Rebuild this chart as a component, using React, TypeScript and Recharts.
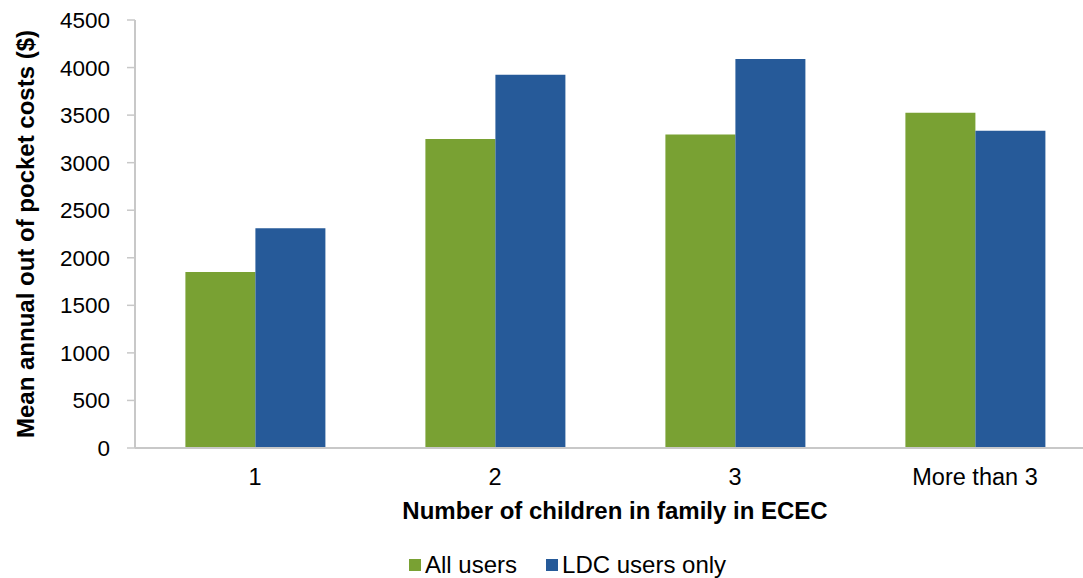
import React from "react";
import { BarChart, Bar, XAxis, YAxis, Legend, Label } from "recharts";

// children in family using ECEC
const categories = ["1", "2", "3", "More than 3"];
const allUsers = [1850, 3250, 3295, 3525];
const ldcUsers = [2310, 3925, 4090, 3335];
const yTicks = [0, 500, 1000, 1500, 2000, 2500, 3000, 3500, 4000, 4500];

const GREEN = "#79A133";
const BLUE = "#265A99";
const FONT = "'Liberation Sans', Arial, sans-serif";

const data = categories.map((c, i) => ({
  name: c,
  all: allUsers[i],
  ldc: ldcUsers[i],
}));

// y-axis title, rotated and centred on the plot
const YTitle = ({ viewBox }: any) => {
  const cx = 25;
  const cy = viewBox.y + viewBox.height / 2;
  return (
    <text
      x={cx}
      y={cy}
      transform={`rotate(-90, ${cx}, ${cy})`}
      textAnchor="middle"
      dominantBaseline="central"
      fontFamily={FONT}
      fontWeight="bold"
      fontSize={24}
      fill="#000"
    >
      Mean annual out of pocket costs ($)
    </text>
  );
};

const XTitle = ({ viewBox }: any) => (
  <text
    x={viewBox.x + viewBox.width / 2}
    y={519}
    textAnchor="middle"
    fontFamily={FONT}
    fontWeight="bold"
    fontSize={24}
    fill="#000"
  >
    Number of children in family in ECEC
  </text>
);

const LegendBox = () => (
  <div
    style={{
      height: 50,
      display: "flex",
      alignItems: "flex-end",
      paddingLeft: 409,
      fontFamily: FONT,
      fontSize: 24,
      color: "#000",
    }}
  >
    <div style={{ display: "flex", alignItems: "center", lineHeight: "27px" }}>
      <span style={{ width: 12, height: 12, background: GREEN, display: "inline-block", marginRight: 4 }} />
      <span style={{ marginRight: 29 }}>All users</span>
      <span style={{ width: 12, height: 12, background: BLUE, display: "inline-block", marginRight: 4 }} />
      <span>LDC users only</span>
    </div>
  </div>
);

export default function App() {
  return (
    <div
      style={{
        position: "absolute",
        left: 0,
        top: 0,
        width: 1083,
        height: 578,
        overflow: "hidden",
        background: "#fff",
      }}
    >
      <BarChart
        width={1095}
        height={578}
        data={data}
        margin={{ top: 20, right: 0, bottom: 0, left: 0 }}
        barCategoryGap="21%"
        barGap={0}
      >
        <XAxis
          dataKey="name"
          height={80}
          tickLine={false}
          tickMargin={14}
          axisLine={{ stroke: "#C8C8C8", strokeWidth: 2 }}
          tick={{ fill: "#000", fontSize: 23.5, fontFamily: FONT }}
        >
          <Label content={<XTitle />} />
        </XAxis>
        <YAxis
          width={135}
          domain={[0, 4500]}
          ticks={yTicks}
          interval={0}
          tickSize={8}
          tickMargin={17}
          tickLine={{ stroke: "#C8C8C8", strokeWidth: 1.5 }}
          axisLine={{ stroke: "#C8C8C8", strokeWidth: 2 }}
          tick={{ fill: "#000", fontSize: 22.5, fontFamily: FONT }}
        >
          <Label content={<YTitle />} />
        </YAxis>
        <Legend verticalAlign="bottom" height={50} content={<LegendBox />} />
        <Bar dataKey="all" name="All users" fill={GREEN} isAnimationActive={false} />
        <Bar dataKey="ldc" name="LDC users only" fill={BLUE} isAnimationActive={false} />
      </BarChart>
    </div>
  );
}
